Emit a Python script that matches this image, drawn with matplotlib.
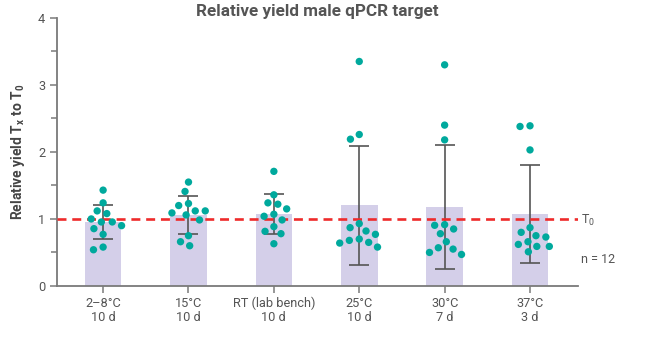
import numpy as np
import matplotlib
matplotlib.use("Agg")
import matplotlib.pyplot as plt

# storage conditions and the 12 replicate yields for each
conditions = ["2\u20138\u00b0C\n10 d", "15\u00b0C\n10 d", "RT (lab bench)\n10 d",
              "25\u00b0C\n10 d", "30\u00b0C\n7 d", "37\u00b0C\n3 d"]
yield_2_8 = [1.43, 1.24, 1.12, 1.08, 1.00, 0.955, 0.955, 0.90, 0.855, 0.77, 0.58, 0.54]
yield_15 = [1.55, 1.41, 1.23, 1.20, 1.12, 1.12, 1.09, 1.06, 0.985, 0.75, 0.66, 0.60]
yield_rt = [1.71, 1.36, 1.24, 1.22, 1.15, 1.07, 1.04, 0.985, 0.885, 0.815, 0.78, 0.63]
yield_25 = [3.35, 2.26, 2.19, 0.93, 0.87, 0.82, 0.77, 0.70, 0.68, 0.65, 0.64, 0.58]
yield_30 = [3.30, 2.40, 2.18, 0.915, 0.905, 0.85, 0.78, 0.66, 0.57, 0.55, 0.50, 0.47]
yield_37 = [2.39, 2.38, 2.03, 0.87, 0.80, 0.75, 0.73, 0.66, 0.62, 0.59, 0.59, 0.51]
groups = [yield_2_8, yield_15, yield_rt, yield_25, yield_30, yield_37]

plt.rcParams['font.family'] = ['Roboto', 'DejaVu Sans']
plt.rcParams['mathtext.default'] = 'regular'

GREY = '#555555'
AXIS = '#7a7a7a'

fig = plt.figure(figsize=(6.66, 3.38), dpi=100)
ax = fig.add_axes([0.0856, 0.154, 0.782, 0.793])
ax.set_xlim(-0.54, 5.56)
ax.set_ylim(0, 4)

pos = np.arange(len(groups))
means = [np.mean(g) for g in groups]
sds = [np.std(g, ddof=1) for g in groups]

ax.bar(pos, means, width=0.43, color='#d4cfe9', zorder=1)
ax.errorbar(pos, means, yerr=sds, fmt='none', ecolor=GREY, elinewidth=1.2,
            capsize=7.5, capthick=1.2, zorder=2)
ax.axhline(1, color='#ee2b2b', lw=1.9, dashes=(3.4, 2.2), zorder=3)


def swarm(values, center, diam):
    # simple beeswarm in pixel space, highest points placed first
    to_px = ax.transData
    ypx = [to_px.transform((center, v))[1] for v in values]
    xunit = to_px.transform((1, 0))[0] - to_px.transform((0, 0))[0]
    placed = []
    offs = [0.0] * len(values)
    for i in sorted(range(len(values)), key=lambda k: -values[k]):
        y = ypx[i]
        cands = [0.0]
        for (px, py) in placed:
            dy = abs(y - py)
            if dy < diam:
                dx = np.sqrt(diam ** 2 - dy ** 2)
                cands += [px - dx, px + dx]
        cands.sort(key=abs)
        for c in cands:
            if all((c - px) ** 2 + (y - py) ** 2 >= diam ** 2 - 1e-6 for px, py in placed):
                break
        placed.append((c, y))
        offs[i] = c / xunit
    return [center + o for o in offs]


for p, g in zip(pos, groups):
    xs = swarm(g, p, 10)
    ax.scatter(xs, g, s=28, color='#00a99d', edgecolors='none', zorder=4)

for side in ['top', 'right']:
    ax.spines[side].set_visible(False)
for side in ['left', 'bottom']:
    ax.spines[side].set_color(AXIS)
    ax.spines[side].set_linewidth(1.3)

ax.set_yticks([0, 1, 2, 3, 4])
ax.set_yticks([0.5, 1.5, 2.5, 3.5], minor=True)
ax.set_xticks(pos)
ax.set_xticklabels(conditions, linespacing=1.1)
ax.tick_params(axis='both', colors=AXIS, labelcolor=GREY, labelsize=9.2,
               length=5, width=1.1)
ax.tick_params(axis='y', which='minor', colors=AXIS, length=4, width=1.1)
ax.tick_params(axis='x', pad=3)

ax.set_ylabel('Relative yield T$_x$ to T$_0$', fontsize=10, fontweight='bold',
              color='#444444', labelpad=8)
fig.text(0.477, 0.965, 'Relative yield male qPCR target', ha='center', va='center',
         fontsize=12.3, fontweight='bold', color=GREY)

ax.text(5.6, 0.98, 'T$_0$', ha='left', va='center', fontsize=9, color=GREY)
ax.text(5.6, 0.40, 'n = 12', ha='left', va='center', fontsize=9, color=GREY)

fig.savefig('out.png', dpi=100)
